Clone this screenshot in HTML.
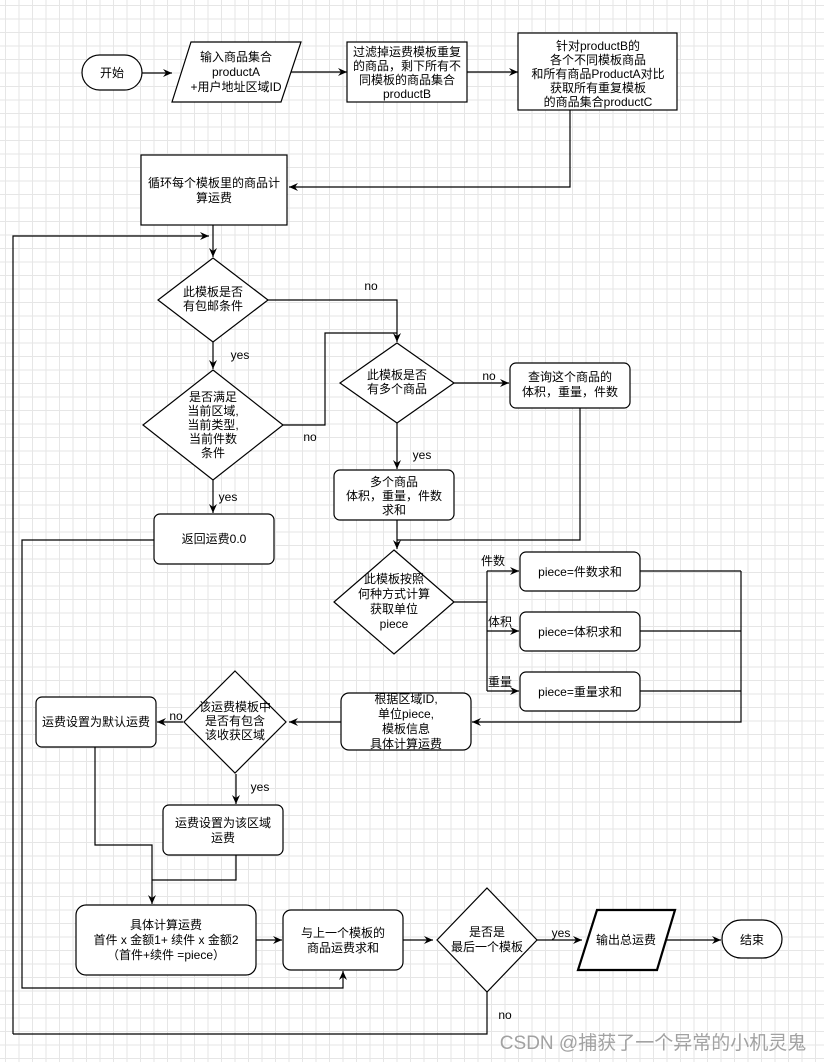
<!DOCTYPE html>
<html><head><meta charset="utf-8"><style>
html,body{margin:0;padding:0}
body{width:824px;height:1062px;overflow:hidden;background-color:#fff;
background-image:linear-gradient(#e6e6e6 1px,transparent 1px),linear-gradient(90deg,#e6e6e6 1px,transparent 1px);
background-size:13.5px 13.5px;background-position:5px 5px}
svg{position:absolute;left:0;top:0}
text{font-family:"Liberation Sans","Noto Sans CJK SC",sans-serif;font-size:12px;fill:#000;text-anchor:middle}
.s{fill:#fff;stroke:#000;stroke-width:1.2}
.l{fill:none;stroke:#000;stroke-width:1.2}
</style></head><body>
<svg width="824" height="1062" viewBox="0 0 824 1062">
<defs><marker id="a" markerWidth="10" markerHeight="10" refX="9" refY="5" orient="auto" markerUnits="userSpaceOnUse"><path d="M0,1 L9,5 L0,9 L3,5z" fill="#000"/></marker></defs>
<g class="l">
<path d="M142,73 H172" marker-end="url(#a)"/>
<path d="M282,72 H347" marker-end="url(#a)"/>
<path d="M467,72 H518" marker-end="url(#a)"/>
<path d="M570,110 V187 H289" marker-end="url(#a)"/>
<path d="M213,225 V257" marker-end="url(#a)"/>
<path d="M13,1034 V236 H209" marker-end="url(#a)"/>
<path d="M268,300 H397 V342" marker-end="url(#a)"/>
<path d="M213,342 V369" marker-end="url(#a)"/>
<path d="M283,425 H325 V333 H397"/>
<path d="M213,480 V513" marker-end="url(#a)"/>
<path d="M454,383 H509" marker-end="url(#a)"/>
<path d="M397,423 V469" marker-end="url(#a)"/>
<path d="M580,408 V540 H397"/>
<path d="M397,520 V549" marker-end="url(#a)"/>
<path d="M454,602 H487 M487,571 V691"/>
<path d="M487,571 H519" marker-end="url(#a)"/>
<path d="M487,631 H519" marker-end="url(#a)"/>
<path d="M487,691 H519" marker-end="url(#a)"/>
<path d="M640,571 H741 M640,631 H741 M640,691 H741 M741,571 V722 H472" marker-end="url(#a)"/>
<path d="M341,722 H289" marker-end="url(#a)"/>
<path d="M183,722 H157" marker-end="url(#a)"/>
<path d="M236,774 V804" marker-end="url(#a)"/>
<path d="M95,747 V845 H152 V904" marker-end="url(#a)"/>
<path d="M236,855 V880 H152"/>
<path d="M154,540 H22 V988 H343 V971" marker-end="url(#a)"/>
<path d="M256,940 H282" marker-end="url(#a)"/>
<path d="M403,940 H433" marker-end="url(#a)"/>
<path d="M534,940 H582" marker-end="url(#a)"/>
<path d="M664,940 H721" marker-end="url(#a)"/>
<path d="M487,992 V1034 H13"/>
</g>
<rect class="s" x="82" y="55" width="60" height="35" rx="17.5"/>
<polygon class="s" points="191,42 301,42 281,102 172,102"/>
<rect class="s" x="347" y="42" width="120" height="60"/>
<rect class="s" x="518" y="33" width="159" height="77"/>
<rect class="s" x="141" y="155" width="146" height="70"/>
<polygon class="s" points="213,258 268,300 213,342 158,300"/>
<polygon class="s" points="213,370 283,425 213,480 143,425"/>
<rect class="s" x="154" y="514" width="120" height="50" rx="6"/>
<polygon class="s" points="397,343 454,383 397,423 340,383"/>
<rect class="s" x="510" y="363" width="120" height="45" rx="6"/>
<rect class="s" x="334" y="470" width="120" height="50" rx="6"/>
<polygon class="s" points="394,550 454,602 394,654 334,602"/>
<rect class="s" x="520" y="552" width="120" height="39" rx="6"/>
<rect class="s" x="520" y="612" width="120" height="39" rx="6"/>
<rect class="s" x="520" y="672" width="120" height="39" rx="6"/>
<rect class="s" x="341" y="693" width="130" height="57" rx="8"/>
<polygon class="s" points="235,671 286,722 235,773 184,722"/>
<rect class="s" x="36" y="697" width="120" height="50" rx="6"/>
<rect class="s" x="163" y="805" width="120" height="50" rx="6"/>
<rect class="s" x="76" y="905" width="180" height="70" rx="10"/>
<rect class="s" x="283" y="910" width="120" height="60" rx="8"/>
<polygon class="s" points="487,888 537,940 487,992 437,940"/>
<polygon class="s" style="stroke-width:2.2" points="597,910 675,910 657,970 578,970"/>
<rect class="s" x="722" y="920" width="60" height="38" rx="19"/>
<text x="112" y="77">开始</text>
<text x="236" y="61">输入商品集合</text><text x="236" y="76">productA</text><text x="236" y="91">+用户地址区域ID</text>
<text x="407" y="56">过滤掉运费模板重复</text><text x="407" y="70">的商品，剩下所有不</text><text x="407" y="84">同模板的商品集合</text><text x="407" y="98">productB</text>
<text x="598" y="50">针对productB的</text><text x="598" y="64">各个不同模板商品</text><text x="598" y="78">和所有商品ProductA对比</text><text x="598" y="92">获取所有重复模板</text><text x="598" y="106">的商品集合productC</text>
<text x="214" y="187">循环每个模板里的商品计</text><text x="214" y="202">算运费</text>
<text x="213" y="296">此模板是否</text><text x="213" y="310">有包邮条件</text>
<text x="213" y="401">是否满足</text><text x="213" y="415">当前区域,</text><text x="213" y="429">当前类型,</text><text x="213" y="443">当前件数</text><text x="213" y="457">条件</text>
<text x="214" y="543">返回运费0.0</text>
<text x="397" y="379">此模板是否</text><text x="397" y="393">有多个商品</text>
<text x="570" y="381">查询这个商品的</text><text x="570" y="396">体积，重量，件数</text>
<text x="394" y="486">多个商品</text><text x="394" y="500">体积，重量，件数</text><text x="394" y="514">求和</text>
<text x="394" y="583">此模板按照</text><text x="394" y="598">何种方式计算</text><text x="394" y="613">获取单位</text><text x="394" y="628">piece</text>
<text x="580" y="576">piece=件数求和</text><text x="580" y="636">piece=体积求和</text><text x="580" y="696">piece=重量求和</text>
<text x="493" y="565">件数</text><text x="500" y="626">体积</text><text x="500" y="686">重量</text>
<text x="406" y="703">根据区域ID,</text><text x="406" y="718">单位piece,</text><text x="406" y="733">模板信息</text><text x="406" y="748">具体计算运费</text>
<text x="235" y="711">该运费模板中</text><text x="235" y="725">是否有包含</text><text x="235" y="739">该收获区域</text>
<text x="96" y="726">运费设置为默认运费</text>
<text x="223" y="827">运费设置为该区域</text><text x="223" y="842">运费</text>
<text x="166" y="929">具体计算运费</text><text x="166" y="944">首件 x 金额1+ 续件 x 金额2</text><text x="166" y="959">（首件+续件 =piece）</text>
<text x="343" y="937">与上一个模板的</text><text x="343" y="952">商品运费求和</text>
<text x="487" y="936">是否是</text><text x="487" y="951">最后一个模板</text>
<text x="626" y="944">输出总运费</text>
<text x="752" y="944">结束</text>
<text x="371" y="290">no</text><text x="240" y="359">yes</text><text x="310" y="441">no</text><text x="228" y="501">yes</text>
<text x="489" y="380">no</text><text x="422" y="459">yes</text><text x="176" y="720">no</text><text x="260" y="791">yes</text>
<text x="561" y="937">yes</text><text x="505" y="1019">no</text>
<text x="653" y="1049" style="font-size:19px;fill:#999;opacity:.9">CSDN @捕获了一个异常的小机灵鬼</text>
</svg>
</body></html>
